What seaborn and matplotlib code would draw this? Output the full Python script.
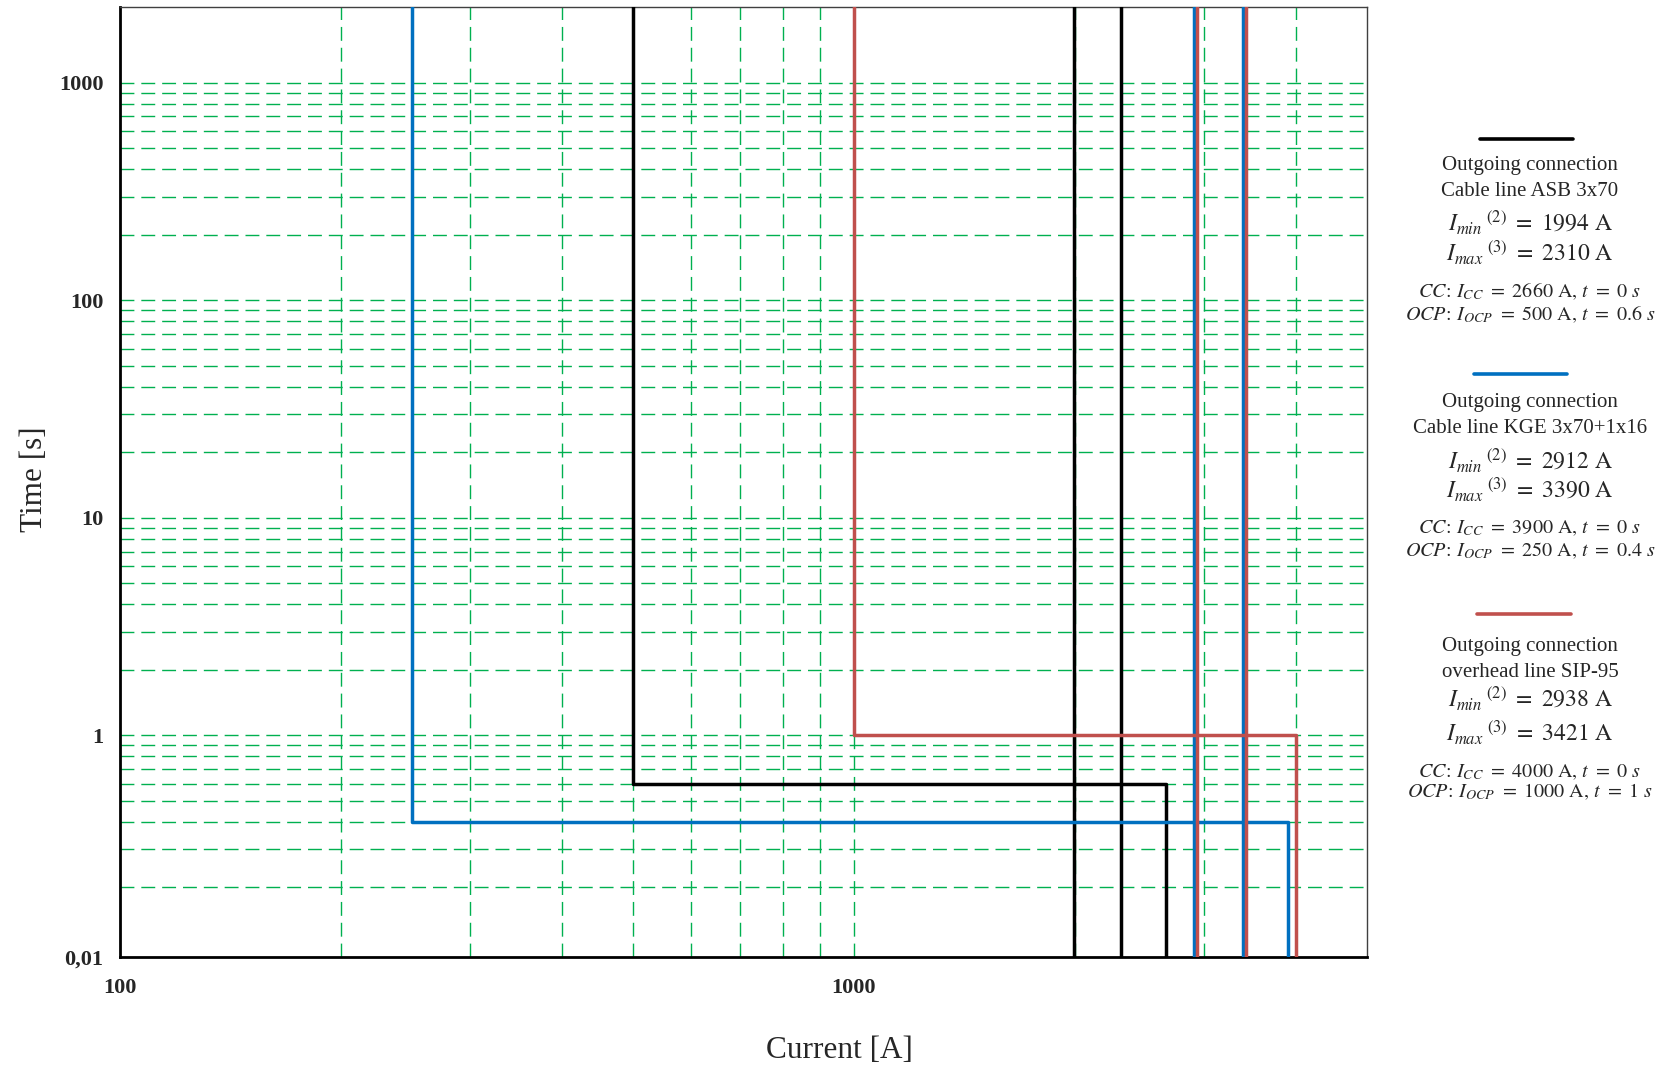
import numpy as np
import pandas as pd
import matplotlib
matplotlib.use("Agg")
import matplotlib.pyplot as plt
import seaborn as sns

sns.set_style("white")
plt.rcParams["font.family"] = ["Liberation Serif", "DejaVu Serif"]
plt.rcParams["mathtext.fontset"] = "stix"

# Protection settings and short-circuit currents of three outgoing connections
names = ["Outgoing connection\nCable line ASB 3x70",
         "Outgoing connection\nCable line KGE 3x70+1x16",
         "Outgoing connection\noverhead line SIP-95"]
colors = ["#000000", "#0070C0", "#C0504D"]
i_min = [1994, 2912, 2938]      # A, two-phase minimum short-circuit current
i_max = [2310, 3390, 3421]      # A, three-phase maximum short-circuit current
i_cc = [2660, 3900, 4000]       # A, current cut-off setting
t_cc = [0, 0, 0]                # s
i_ocp = [500, 250, 1000]        # A, overcurrent protection setting
t_ocp = [0.6, 0.4, 1]           # s

x_ticks = [100, 1000]
x_tick_labels = ["100", "1000"]
y_ticks = [1, 10, 100, 1000]
y_tick_labels = ["1", "10", "100", "1000"]
y_bottom_label = "0,01"

x_lim = (100, 5000)
y_lim = (0.0957, 2230)

W, H = 1661, 1068
fig = plt.figure(figsize=(W / 100, H / 100), dpi=100)
ax = fig.add_axes([120 / W, 1 - 957 / H, (1366.7 - 120) / W, (957 - 7) / H])
ax.set_xscale("log")
ax.set_yscale("log")
ax.set_xlim(*x_lim)
ax.set_ylim(*y_lim)

# dashed green grid on every 1..9 x 10^k decade step
grid_kw = dict(color="#00B050", lw=1.0, dashes=(10, 5), zorder=1)
for k in range(-1, 4):
    for m in range(1, 10):
        v = m * 10.0 ** k
        if y_lim[0] * 1.05 < v <= 1000 * 1.0001:
            ax.axhline(v, **grid_kw)
for k in range(2, 4):
    for m in range(1, 10):
        v = m * 10.0 ** k
        if x_lim[0] * 1.01 < v < x_lim[1] * 0.99:
            ax.axvline(v, **grid_kw)

# current-time characteristics of each protection
lo, hi = y_lim[0] * 0.5, y_lim[1] * 2
for i in range(len(names)):
    step = pd.DataFrame({
        "I": [i_ocp[i], i_ocp[i], i_cc[i], i_cc[i]],
        "t": [hi, t_ocp[i], t_ocp[i], lo],
    })
    sns.lineplot(data=step, x="I", y="t", sort=False, estimator=None,
                 color=colors[i], lw=2.5, ax=ax, zorder=3)
    for cur in (i_min[i], i_max[i]):
        vline = pd.DataFrame({"I": [cur, cur], "t": [hi, lo]})
        sns.lineplot(data=vline, x="I", y="t", sort=False, estimator=None,
                     color=colors[i], lw=2.5, ax=ax, zorder=3)

ax.set_xlim(*x_lim)
ax.set_ylim(*y_lim)

ax.set_xticks(x_ticks)
ax.set_xticklabels(x_tick_labels)
ax.set_yticks([y_lim[0]] + y_ticks)
ax.set_yticklabels([y_bottom_label] + y_tick_labels)
ax.xaxis.set_minor_locator(matplotlib.ticker.NullLocator())
ax.yaxis.set_minor_locator(matplotlib.ticker.NullLocator())
ax.tick_params(axis="both", length=0, labelsize=16)
ax.tick_params(axis="y", pad=12)
ax.tick_params(axis="x", pad=15)
for lab in ax.get_xticklabels() + ax.get_yticklabels():
    lab.set_fontweight("bold")

ax.set_xlabel("")
ax.set_ylabel("")
fig.text(839 / W, 1 - 1050 / H, "Current [A]", ha="center", va="center",
         fontsize=22.5)
fig.text(35 / W, 1 - 479 / H, "Time [s]", ha="center", va="center",
         fontsize=22.5, rotation=90)

for side in ("left", "bottom"):
    ax.spines[side].set_color("#000000")
    ax.spines[side].set_linewidth(2.0)
for side in ("top", "right"):
    ax.spines[side].set_color("#404040")
    ax.spines[side].set_linewidth(1.0)
    ax.spines[side].set_visible(True)

# side captions for the three characteristics (baselines in pixels)
cx = 1530 / W
blocks = [
    dict(line_y=139, x0=1480, x1=1573, t1=170, t2=196, mn=232, mx=262, cc=297, ocp=320),
    dict(line_y=374, x0=1474, x1=1567, t1=407, t2=433, mn=470, mx=499, cc=533, ocp=556),
    dict(line_y=614, x0=1477, x1=1571, t1=651, t2=677, mn=708, mx=742, cc=777, ocp=797),
]
for i, b in enumerate(blocks):
    fig.add_artist(plt.Line2D([b["x0"] / W, b["x1"] / W],
                              [1 - b["line_y"] / H] * 2,
                              color=colors[i], lw=2.6))
    top_line, bottom_line = names[i].split("\n")
    fig.text(cx, 1 - b["t1"] / H, top_line, ha="center", va="baseline", fontsize=15)
    fig.text(cx, 1 - b["t2"] / H, bottom_line, ha="center", va="baseline", fontsize=15)
    fig.text(cx, 1 - b["mn"] / H,
             r"${I_{min}}^{\ (2)}\ =\ %d\ \mathrm{A}$" % i_min[i],
             ha="center", va="baseline", fontsize=17)
    fig.text(cx, 1 - b["mx"] / H,
             r"${I_{max}}^{\ (3)}\ =\ %d\ \mathrm{A}$" % i_max[i],
             ha="center", va="baseline", fontsize=17)
    fig.text(cx, 1 - b["cc"] / H,
             r"$CC\!:\,I_{CC}\ =\ %d\ \mathrm{A},\,t\ =\ %g\ s$" % (i_cc[i], t_cc[i]),
             ha="center", va="baseline", fontsize=14.5)
    fig.text(cx, 1 - b["ocp"] / H,
             r"$OCP\!:\,I_{OCP}\ =\ %d\ \mathrm{A},\,t\ =\ %g\ s$" % (i_ocp[i], t_ocp[i]),
             ha="center", va="baseline", fontsize=14.5)

fig.savefig("out.png", dpi=100)
